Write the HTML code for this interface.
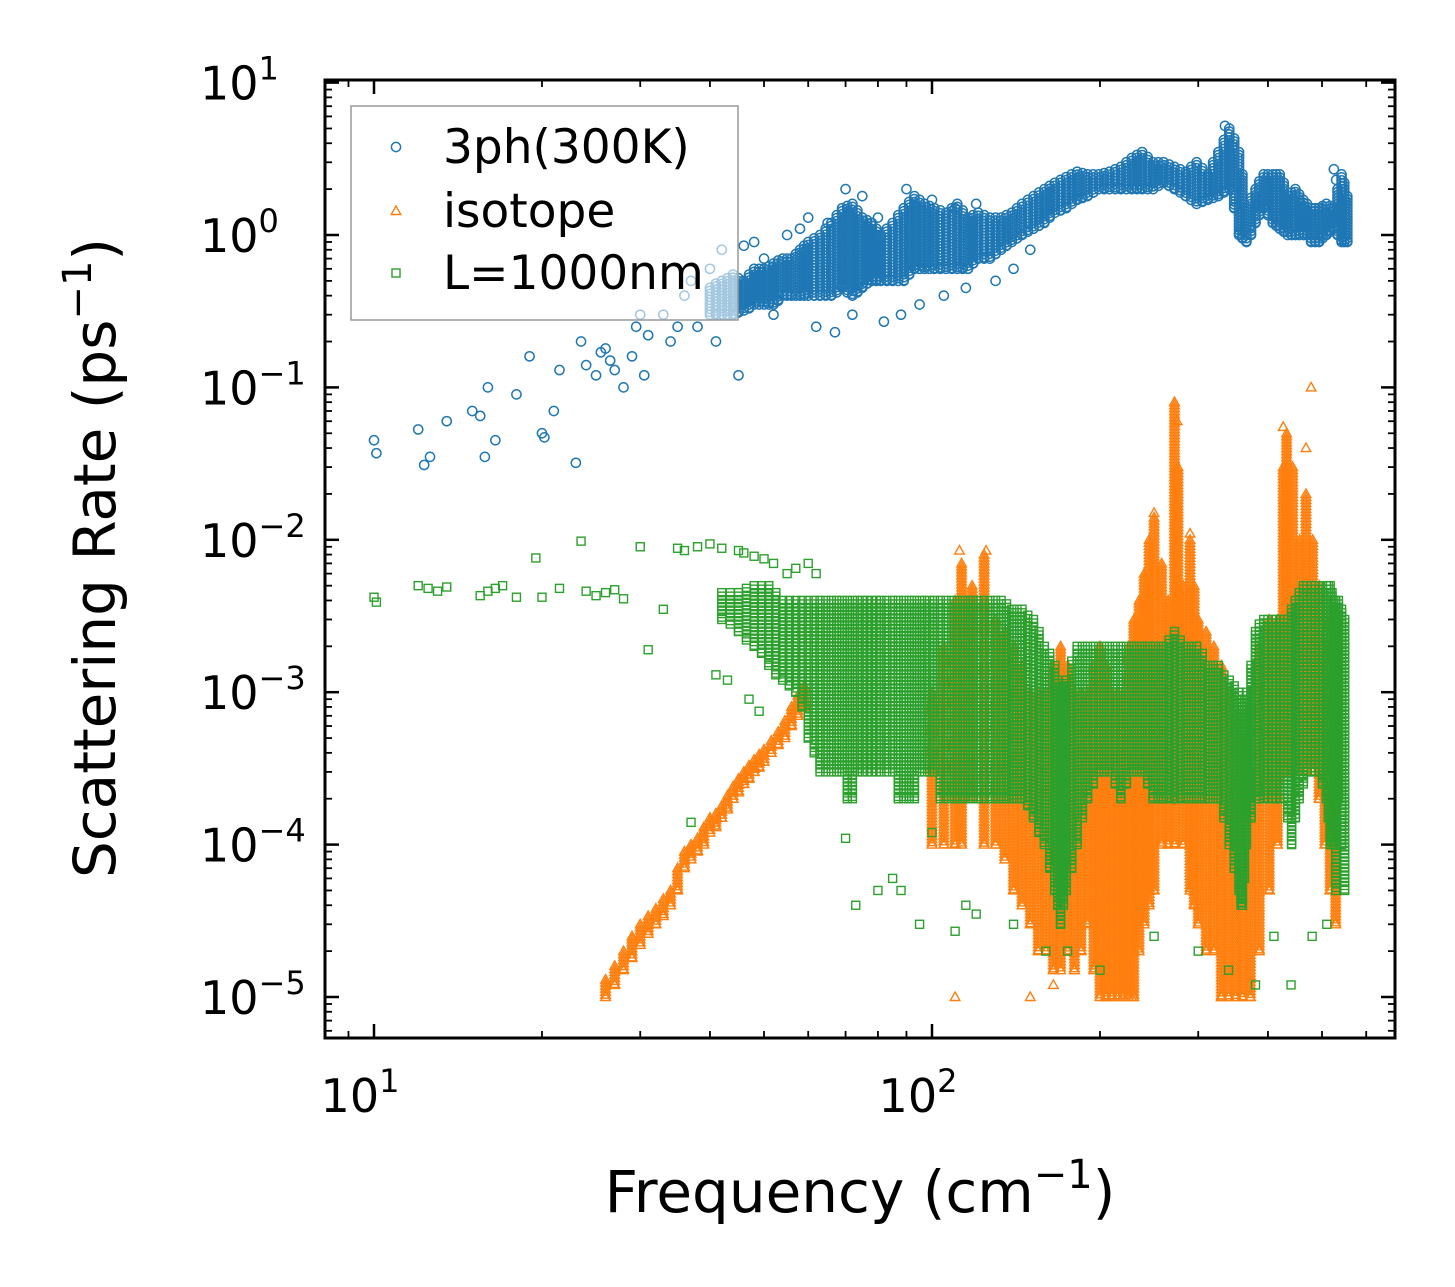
<!DOCTYPE html>
<html><head><meta charset="utf-8"><style>
html,body{margin:0;padding:0;background:#fff;}
body{position:relative;width:1455px;height:1287px;overflow:hidden}
svg{display:block;font-family:"DejaVu Sans","Liberation Sans",sans-serif;}
</style></head><body>
<svg id="chart" width="1455" height="1287" viewBox="0 0 1455 1287" xmlns="http://www.w3.org/2000/svg">
<rect width="1455" height="1287" fill="#fff"/>
<g id="marks"></g>
<g id="axes"></g>
</svg>
<script>
// ---- data (frequency cm^-1, rate ps^-1) ----
const blueFreq = [10,10.1,12,12.3,12.6,13.5,15,15.5,15.8,16,16.5,18,19,20,20.2,21,21.5,23,23.5,24,25,25.5,26,26.5,27,28,29,29.5,30,30.5,31,33,34,35,36,37,38,40,41,42,44,45,46,48,50,52,55,58,60,62,65,67,70,72,75,78,80,82,85,88,90,95,100,105,110,115,120,130,140,150,335,345,525,530];
const blueRate = [0.045,0.037,0.053,0.031,0.035,0.06,0.07,0.065,0.035,0.1,0.045,0.09,0.16,0.05,0.047,0.07,0.13,0.032,0.2,0.14,0.12,0.17,0.18,0.15,0.13,0.1,0.16,0.25,0.3,0.12,0.22,0.3,0.2,0.25,0.4,0.5,0.25,0.6,0.2,0.8,0.3,0.12,0.85,0.9,0.7,0.3,1.0,1.1,1.3,0.25,1.2,0.23,2.0,0.3,1.8,0.8,1.3,0.27,1.0,0.3,2.0,0.35,1.7,0.4,1.5,0.45,1.6,0.5,0.6,0.8,5.2,3.8,2.7,2.3];
const blueBandFreq = [40,41,42,43,44,45,46,47,48,49,50,51,52,53,54,55,56,57,58,59,60,61.5,63,64.5,66,67.5,69,70.5,72,73.5,75,76.5,78,79.5,81,83,85,87,89,91,93,95,97,99,101,103.5,106,108.5,111,113.5,116,118.5,121,124,127,130,133,136,139,142,145,148.5,152,155.5,159,162.5,166,170,174,178,182,186,190,194.5,199,203.5,208,213,218,223,228,233,238,243.5,249,254.5,260,266,272,278.5,285,291.5,298,305,312,319,326,333.5,341,348,355,360,366,373,380,386,393,400,408,414,420,427,434,441,448,455,463,470,478,486,494,501,509,517,525,533,542,548,555];
const blueBandLo = [0.3,0.3,0.3,0.3,0.3,0.31,0.32,0.33,0.35,0.35,0.35,0.35,0.35,0.37,0.4,0.4,0.4,0.4,0.4,0.4,0.4,0.4,0.4,0.4,0.4,0.42,0.45,0.42,0.4,0.42,0.45,0.48,0.5,0.5,0.5,0.5,0.5,0.5,0.5,0.55,0.6,0.6,0.6,0.6,0.6,0.6,0.6,0.6,0.6,0.6,0.6,0.65,0.7,0.7,0.7,0.75,0.8,0.85,0.9,0.95,1.0,1.05,1.1,1.15,1.2,1.3,1.4,1.45,1.5,1.6,1.7,1.75,1.8,1.9,2.0,2.0,2.0,2.0,2.0,2.0,2.0,2.0,2.0,2.0,2.0,2.1,2.2,2.1,2.0,1.9,1.8,1.7,1.6,1.65,1.7,1.75,1.8,1.9,2.0,1.5,1.0,0.95,0.9,1.0,1.2,1.35,1.5,1.35,1.2,1.15,1.1,1.05,1.0,1.0,1.0,1.0,1.0,1.0,0.9,0.9,0.9,0.95,1.0,1.05,1.1,1.0,0.9,0.9,0.9];
const blueBandHi = [0.45,0.48,0.5,0.52,0.55,0.52,0.5,0.55,0.6,0.6,0.6,0.62,0.65,0.68,0.7,0.7,0.7,0.75,0.8,0.85,0.9,0.95,1.0,1.1,1.2,1.35,1.5,1.55,1.6,1.45,1.3,1.25,1.2,1.1,1.0,1.1,1.2,1.35,1.5,1.65,1.8,1.7,1.6,1.55,1.5,1.45,1.4,1.5,1.6,1.45,1.3,1.35,1.4,1.35,1.3,1.3,1.3,1.35,1.4,1.5,1.6,1.7,1.8,1.9,2.0,2.1,2.2,2.3,2.4,2.5,2.6,2.55,2.5,2.5,2.5,2.55,2.6,2.7,2.8,3.0,3.2,3.35,3.5,3.25,3.0,3.0,3.0,2.9,2.8,2.7,2.6,2.8,3.0,2.75,2.5,3.0,3.5,4.2,5.0,4.3,3.5,2.5,1.5,1.75,2.0,2.25,2.5,2.5,2.5,2.5,2.5,2.2,1.8,1.9,2.0,1.85,1.7,1.6,1.5,1.5,1.5,1.55,1.6,1.55,1.5,2.0,2.5,2.2,1.8,1.5,1.3];

const orangeFreq = [112,125,110,150,165,205,228,250,272,275,290,330,360,426,468,478,530];
const orangeRate = [0.0085,0.0085,1e-5,1e-5,1.2e-5,1e-5,1e-5,0.015,0.08,0.06,0.011,1e-5,1e-5,0.055,0.04,0.1,1.2];
const orangeBandFreq = [26,27,28,29,30,31,32,33,34,35,36,37,38,39,40,41,42,43,44,45,46,47,48,49,50,51.5,53,54.5,56,57.5,59,100,105,110,113,118,124,130,135,140,145,150,155,160,165,170,175,180,185,190,195,200,205,210,215,220,225,230,235,240,245,250,258,265,272,276,282,290,295,300,310,320,330,340,350,360,372,386,402,416,426,432,443,456,468,481,494,506,517,529];
const orangeBandLo = [1e-5,1.2e-5,1.5e-5,1.8e-5,2.2e-5,2.6e-5,3e-5,3.4e-5,4e-5,5e-5,7e-5,8e-5,9e-5,1e-4,1.2e-4,1.3e-4,1.5e-4,1.7e-4,2e-4,2.2e-4,2.5e-4,2.7e-4,3e-4,3.2e-4,3.5e-4,4e-4,4.5e-4,5e-4,6e-4,7e-4,8e-4,1e-4,1e-4,1e-4,1e-4,2e-4,1e-4,1e-4,8e-5,5e-5,4e-5,3e-5,2e-5,2e-5,1.5e-5,1.5e-5,2e-5,1.5e-5,2e-5,3e-5,1.5e-5,1e-5,1e-5,1e-5,1e-5,1e-5,1e-5,1e-5,2e-5,3e-5,4e-5,5e-5,1e-4,1e-4,1e-4,2e-4,1e-4,5e-5,4e-5,3e-5,2e-5,2e-5,1e-5,1e-5,1e-5,1e-5,1e-5,2e-5,5e-5,1e-4,3e-4,3e-4,3e-4,3e-4,3e-4,3e-4,2e-4,1e-4,5e-5,3e-5];
const orangeBandHi = [1.3e-5,1.6e-5,2e-5,2.5e-5,3e-5,3.4e-5,3.8e-5,4.4e-5,5e-5,7e-5,9e-5,1e-4,1.1e-4,1.3e-4,1.5e-4,1.6e-4,1.8e-4,2.1e-4,2.4e-4,2.7e-4,3e-4,3.3e-4,3.6e-4,3.9e-4,4.2e-4,4.8e-4,5.5e-4,6.5e-4,8e-4,9.5e-4,1.1e-3,1e-3,0.002,0.004,0.007,0.005,0.008,0.003,0.0025,0.002,0.0015,0.001,0.001,0.001,0.0015,0.002,0.0015,0.001,0.001,0.001,0.0015,0.002,0.0015,0.001,0.001,0.001,0.002,0.003,0.004,0.006,0.01,0.014,0.007,0.004,0.08,0.03,0.005,0.01,0.005,0.003,0.0025,0.002,0.0015,0.001,0.0007,0.0005,0.0003,0.002,0.003,0.003,0.03,0.05,0.03,0.01,0.02,0.01,0.005,0.002,0.003,0.002];

const greenFreq = [10,10.1,12,12.5,13,13.5,15.5,16,16.5,17,18,19.5,20,21.5,23.5,24,25,26,27,28,30,31,33,35,36,38,40,42,45,46,48,50,52,55,57,60,62,37,41,43,47,49,70,73,80,85,88,95,110,115,120,100,140,160,175,200,250,300,340,380,410,440,480,510];
const greenRate = [0.0042,0.0039,0.005,0.0048,0.0046,0.0049,0.0043,0.0046,0.0048,0.005,0.0042,0.0076,0.0042,0.0048,0.0098,0.0046,0.0043,0.0045,0.0047,0.0041,0.009,0.0019,0.0035,0.0088,0.0085,0.009,0.0094,0.0088,0.0085,0.0082,0.0078,0.0075,0.007,0.006,0.0065,0.007,0.006,0.00014,0.0013,0.0012,0.0009,0.00075,0.00011,0.00004,0.00005,0.00006,0.00005,0.00003,0.000027,0.00004,0.000035,0.00012,0.00003,0.00002,0.00002,0.000015,0.000025,0.00002,0.000015,0.000012,0.000025,0.000012,0.000025,0.00003];
const greenBandFreq = [42,43.5,45,46.5,48,49.5,51,52.5,54,55.5,57,58.5,60,61.5,63,64.5,66,67.5,69,70.5,72,73.5,75,76.5,78,79.5,81,83,85,87,89,91,93,95,97,99,101,103.5,106,108.5,111,113.5,116,118.5,121,124,127,130,133,136,139,142,145,148.5,152,155.5,159,162.5,166,168,170,172,174,178,182,186,190,194.5,199,203.5,208,213,218,223,228,233,238,243.5,249,254.5,260,266,272,278.5,285,291.5,298,305,312,319,326,333.5,341,348,355,358,360,363,366,373,380,386,393,400,408,414,420,427,434,441,448,455,463,470,478,486,494,501,509,513,517,521,525,529,535,542,549];
const greenBandLo = [0.003,0.0028,0.0025,0.0022,0.002,0.0018,0.0015,0.0013,0.0012,0.0011,0.001,0.0008,0.0005,0.0004,0.0003,0.0003,0.0003,0.0003,0.0003,0.0002,0.0002,0.0003,0.0003,0.0003,0.0003,0.0003,0.0003,0.0003,0.0003,0.0002,0.0002,0.0002,0.0002,0.0003,0.0003,0.0003,0.0003,0.0002,0.0002,0.0002,0.0002,0.0002,0.0002,0.0002,0.0002,0.0002,0.0002,0.0002,0.0002,0.0002,0.0002,0.0002,0.0002,0.00018,0.00015,0.00012,0.0001,0.00007,0.00005,0.00004,0.00003,0.00004,0.00005,0.00007,0.0001,0.00015,0.0002,0.00025,0.0003,0.0003,0.0003,0.00025,0.0002,0.00025,0.0003,0.0003,0.0003,0.00025,0.0002,0.0002,0.0002,0.0002,0.0002,0.0002,0.0002,0.0002,0.0002,0.0002,0.0002,0.0002,0.0002,0.00015,0.0001,0.00007,0.00005,0.00004,0.00004,0.00006,0.0001,0.00015,0.0002,0.0002,0.0002,0.0002,0.0002,0.0002,0.0002,0.0002,0.00015,0.0001,0.00015,0.0002,0.00025,0.0003,0.0003,0.0003,0.0003,0.00025,0.0002,0.00015,0.0001,0.0001,0.0001,0.00005,0.0002,0.0001,0.00005,0.00004,0.00003];
const greenBandHi = [0.0045,0.0045,0.0045,0.0048,0.005,0.005,0.005,0.0045,0.004,0.004,0.004,0.004,0.004,0.004,0.004,0.004,0.004,0.004,0.004,0.004,0.004,0.004,0.004,0.004,0.004,0.004,0.004,0.004,0.004,0.004,0.004,0.004,0.004,0.004,0.004,0.004,0.004,0.004,0.004,0.004,0.004,0.004,0.004,0.004,0.004,0.004,0.004,0.004,0.004,0.0038,0.0035,0.0035,0.0035,0.0032,0.003,0.0025,0.002,0.0018,0.0015,0.0012,0.001,0.0011,0.0012,0.0016,0.002,0.002,0.002,0.002,0.002,0.002,0.002,0.002,0.002,0.002,0.002,0.002,0.002,0.002,0.002,0.002,0.002,0.0022,0.0025,0.0022,0.002,0.002,0.002,0.0018,0.0015,0.0015,0.0015,0.0013,0.0012,0.0011,0.001,0.0009,0.0008,0.0009,0.001,0.0015,0.0025,0.0028,0.003,0.003,0.003,0.003,0.003,0.003,0.003,0.0035,0.004,0.0045,0.005,0.005,0.005,0.005,0.005,0.005,0.005,0.005,0.005,0.0045,0.004,0.004,0.004,0.0035,0.003,0.0025,0.002];

const xTickVals = [10,100];
const xTickExp = ['1','2'];
const yTickVals = [10,1,0.1,0.01,0.001,0.0001,0.00001];
const yTickExp = ['1','0','\u22121','\u22122','\u22123','\u22124','\u22125'];

// ---- axes ----
const L=325,R=1395,T=80,B=1038;
const xDec=558, x10=374, yDec=152.4, y1=235;
const X=f=>x10+xDec*(Math.log10(f)-1);
const Y=v=>y1-yDec*Math.log10(v);
const NS='http://www.w3.org/2000/svg';
const marks=document.getElementById('marks');
const axes=document.getElementById('axes');
function mk(tag,attrs,parent){const e=document.createElementNS(NS,tag);for(const k in attrs)e.setAttribute(k,attrs[k]);parent.appendChild(e);return e;}
const COL={b:'#1f77b4',o:'#ff7f0e',g:'#2ca02c'};
function marker(kind,x,y,parent){
  if(x<L-6||x>R+6||y<T-6||y>B+6)return;
  let e;
  if(kind==='b') e=mk('circle',{cx:x,cy:y,r:4.6,fill:'none',stroke:COL.b,'stroke-width':1.5},parent);
  else if(kind==='o') e=mk('polygon',{points:`${x},${y-5} ${x+4.8},${y+3.5} ${x-4.8},${y+3.5}`,fill:'none',stroke:COL.o,'stroke-width':1.4},parent);
  else e=mk('rect',{x:x-4,y:y-4,width:8,height:8,fill:'none',stroke:COL.g,'stroke-width':1.4},parent);
  
  
}
function band(kind,fr,lo,hi,step,g){
  for(let i=0;i<fr.length;i++){
    const x=X(fr[i]),ya=Y(hi[i]),yb=Y(lo[i]);
    for(let y=ya;y<=yb;y+=step){marker(kind,x,y,g);}
    marker(kind,x,yb,g);
  }
}
function scatter(kind,fr,v,g){for(let i=0;i<fr.length;i++)marker(kind,X(fr[i]),Y(v[i]),g);}
const gO=mk('g',{},marks);
const gG=mk('g',{},marks);
const gB=mk('g',{},marks);
band('o',orangeBandFreq,orangeBandLo,orangeBandHi,3,gO);
scatter('o',orangeFreq,orangeRate,gO);
band('g',greenBandFreq,greenBandLo,greenBandHi,3.5,gG);
scatter('g',greenFreq,greenRate,gG);
band('b',blueBandFreq,blueBandLo,blueBandHi,3,gB);
scatter('b',blueFreq,blueRate,gB);

const fr=mk('rect',{x:L,y:T,width:R-L,height:B-T,fill:'none',stroke:'#000','stroke-width':3},axes);

for(let d=0;d<=2;d++){for(let m=1;m<=9;m++){const f=m*Math.pow(10,d);const x=X(f);if(x<L||x>R)continue;const len=m===1?14:7,w=m===1?2.5:1.8;
  mk('line',{x1:x,y1:B,x2:x,y2:B-len,stroke:'#000','stroke-width':w},axes);mk('line',{x1:x,y1:T,x2:x,y2:T+len,stroke:'#000','stroke-width':w},axes);}}
for(let d=-6;d<=1;d++){for(let m=1;m<=9;m++){const v=m*Math.pow(10,d);const y=Y(v);if(y<T||y>B)continue;const len=m===1?14:7,w=m===1?2.5:1.8;
  mk('line',{x1:L,y1:y,x2:L+len,y2:y,stroke:'#000','stroke-width':w},axes);mk('line',{x1:R,y1:y,x2:R-len,y2:y,stroke:'#000','stroke-width':w},axes);}}
xTickVals.forEach((v,i)=>{const t=mk('text',{x:X(v)-14,y:1112,'font-size':46,'text-anchor':'middle'},axes);
  
  t.textContent='10';const s=mk('tspan',{dy:-20,'font-size':32},t);s.textContent=xTickExp[i];});
yTickVals.forEach((v,i)=>{const t=mk('text',{x:200,y:Y(v)+17,'font-size':46,'text-anchor':'start'},axes);
  
  t.textContent='10';const s=mk('tspan',{dy:-20,'font-size':32},t);s.textContent=yTickExp[i];});
</script>
<svg width="1455" height="1287" style="position:absolute;left:0;top:0" xmlns="http://www.w3.org/2000/svg">
<text x="860" y="1212" font-size="58" text-anchor="middle" font-family="DejaVu Sans, Liberation Sans, sans-serif">Frequency (cm<tspan dy="-24" font-size="40">−1</tspan><tspan dy="24">)</tspan></text>
<text transform="translate(115,558) rotate(-90)" font-size="58" text-anchor="middle" font-family="DejaVu Sans, Liberation Sans, sans-serif">Scattering Rate (ps<tspan dy="-24" font-size="40">−1</tspan><tspan dy="24">)</tspan></text>
<g font-family="DejaVu Sans, Liberation Sans, sans-serif">
<rect x="351" y="106" width="387" height="214" fill="#fff" fill-opacity="0.6" stroke="#999" stroke-width="1.5"/>
<circle cx="396" cy="147" r="4.6" fill="none" stroke="#1f77b4" stroke-width="1.5"/>
<text x="443" y="163" font-size="47">3ph(300K)</text>
<polygon points="396,206 400.8,214.5 391.2,214.5" fill="none" stroke="#ff7f0e" stroke-width="1.4"/>
<text x="443" y="227" font-size="47">isotope</text>
<rect x="392" y="269" width="8" height="8" fill="none" stroke="#2ca02c" stroke-width="1.4"/>
<text x="443" y="289" font-size="47">L=1000nm</text>
</g>
</svg>
</body></html>
